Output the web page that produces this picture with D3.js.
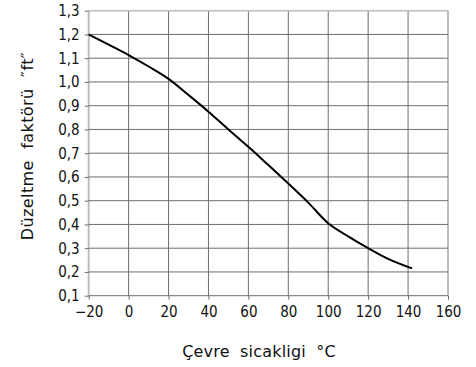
<!DOCTYPE html>
<html>
<head>
<meta charset="utf-8">
<script src="https://cdn.jsdelivr.net/npm/d3@7"></script>
<style>
  html, body { margin: 0; padding: 0; background: #fff; }
  svg { display: block; }
  .tick text { font-family: "Liberation Sans Narrow", "DejaVu Sans Condensed", sans-serif; font-size: 15px; fill: #111; }
  .title { font-family: "DejaVu Sans", "Noto Sans", sans-serif; font-size: 16px; fill: #111; }
</style>
</head>
<body>
<svg id="chart" width="476" height="367"></svg>
<script>
// Ambient temperature (°C) and the derating factor "ft"
const temperatures = [-20, -10, 0, 10, 20, 30, 40, 50, 60, 70, 80, 90, 100, 110, 120, 130, 142];
const factors      = [1.20, 1.157, 1.113, 1.065, 1.013, 0.945, 0.875, 0.80, 0.727, 0.65, 0.572, 0.492, 0.405, 0.35, 0.30, 0.255, 0.215];

const xTicks = [-20, 0, 20, 40, 60, 80, 100, 120, 140, 160];
const yTicks = [0.1, 0.2, 0.3, 0.4, 0.5, 0.6, 0.7, 0.8, 0.9, 1.0, 1.1, 1.2, 1.3];

const xTitle = "Çevre sicakligi °C";
const yTitle = "Düzeltme faktörü \u2033ft\u2033";

const svg = d3.select("#chart");
const plotLeft = 88.7, plotRight = 448, plotTop = 10.7, plotBottom = 295.7;

const x = d3.scaleLinear().domain([-20, 160]).range([plotLeft, plotRight]);
const y = d3.scaleLinear().domain([0.1, 1.3]).range([plotBottom, plotTop]);

const fmtX = d => d < 0 ? "\u2212" + Math.abs(d) : String(d);
const fmtY = d => d3.format(".1f")(d).replace(".", ",");

// grid
const grid = svg.append("g");
grid.selectAll("line.v").data(xTicks).join("line")
  .attr("x1", d => x(d)).attr("x2", d => x(d))
  .attr("y1", plotTop).attr("y2", plotBottom)
  .attr("stroke", d => (d === -20 || d === 160) ? "#bdbdbd" : "#6e6e6e")
  .attr("stroke-width", d => (d === -20 || d === 160) ? 2 : 1);
grid.selectAll("line.h").data(yTicks).join("line")
  .attr("x1", plotLeft).attr("x2", plotRight)
  .attr("y1", d => y(d)).attr("y2", d => y(d))
  .attr("stroke", d => d === 1.3 ? "#bdbdbd" : "#6e6e6e")
  .attr("stroke-width", d => d === 1.3 ? 1.5 : 1);

// axes
const xAxis = svg.append("g")
  .attr("transform", `translate(0,${plotBottom})`)
  .call(d3.axisBottom(x).tickValues(xTicks).tickFormat(fmtX).tickSize(4).tickPadding(7).tickSizeOuter(0));
const yAxis = svg.append("g")
  .attr("transform", `translate(${plotLeft},0)`)
  .call(d3.axisLeft(y).tickValues(yTicks).tickFormat(fmtY).tickSize(4).tickPadding(5).tickSizeOuter(0));
[xAxis, yAxis].forEach(a => {
  a.select(".domain").remove();
  a.selectAll(".tick line").attr("stroke", "#6e6e6e");
});

// curve
const pts = temperatures.map((t, i) => [t, factors[i]]);
svg.append("path")
  .datum(pts)
  .attr("fill", "none")
  .attr("stroke", "#000")
  .attr("stroke-width", 2)
  .attr("stroke-linejoin", "round")
  .attr("d", d3.line().x(d => x(d[0])).y(d => y(d[1])).curve(d3.curveMonotoneX));

// titles
svg.append("text").attr("class", "title")
  .attr("x", 259).attr("y", 357)
  .attr("text-anchor", "middle")
  .attr("letter-spacing", "0.2")
  .attr("word-spacing", "5")
  .text(xTitle);
svg.append("text").attr("class", "title")
  .attr("transform", "translate(33,146) rotate(-90)")
  .attr("text-anchor", "middle")
  .attr("letter-spacing", "0.4")
  .attr("word-spacing", "6")
  .text(yTitle);
</script>
</body>
</html>
